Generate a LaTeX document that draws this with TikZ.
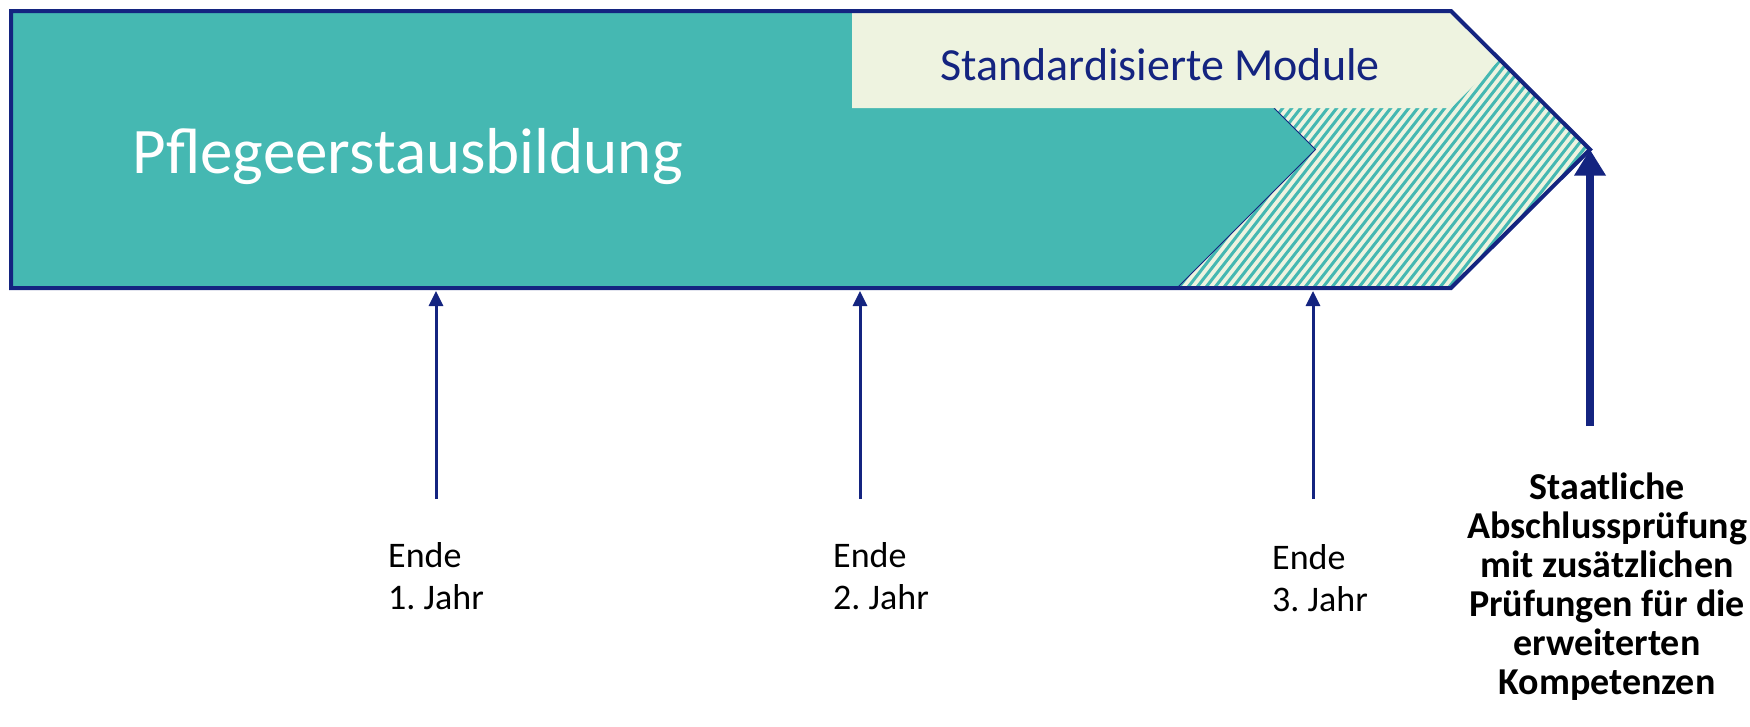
\documentclass[tikz,border=0pt]{standalone}
\usepackage{fontspec}
\setmainfont{Carlito}
\usetikzlibrary{arrows.meta}
\definecolor{tealf}{RGB}{69,184,178}
\definecolor{lightg}{RGB}{238,243,224}
\definecolor{navy}{RGB}{20,36,128}
\frenchspacing
\tikzset{
  smallarrow/.style={navy, line width=3pt, -{Triangle[width=14pt,length=15pt]}},
  bigarrow/.style={navy, line width=8pt, -{Triangle[width=30pt,length=26pt]}},
  yearlbl/.style={anchor=base west, inner sep=0pt, align=left, font=\fontsize{36}{42}\selectfont},
  stripe/.style={tealf, line width=3pt}
}
\begin{document}
\begin{tikzpicture}[x=1pt,y=-1pt]
\useasboundingbox (0,0) rectangle (1750,726);
% outer chevron corners
\coordinate (oTL) at (11,11);
\coordinate (oTR) at (1451,11);
\coordinate (oTip) at (1590,149.5);
\coordinate (oBR) at (1451,288);
\coordinate (oBL) at (11,288);
% hatched background
\fill[lightg] (oTL) -- (oTR) -- (oTip) -- (oBR) -- (oBL) -- cycle;
\begin{scope}
  \clip (oTL) -- (oTR) -- (oTip) -- (oBR) -- (oBL) -- cycle;
  \foreach \i in {0,...,76} {
    \draw[stripe] ({935+9*\i},300) -- ({935+9*\i+234},0);
  }
\end{scope}
% teal chevron
\coordinate (tTop) at (1274,108);
\coordinate (tTip) at (1315.5,149.5);
\coordinate (tBot) at (1177,288);
\fill[tealf] (oTL) -- (1177,11) -- (tTip) -- (tBot) -- (oBL) -- cycle;
\draw[navy, line width=1pt] (tTop) -- (tTip) -- (tBot);
% light chevron
\fill[lightg] (852,11) -- (oTR) -- (1499.5,59.5) -- (1451,108) -- (852,108) -- cycle;
% outer border
\draw[navy, line width=4pt, line join=miter] (oTL) -- (oTR) -- (oTip) -- (oBR) -- (oBL) -- cycle;
% texts
\node[white, inner sep=0pt, anchor=base west, font=\fontsize{65}{70}\selectfont] (pfl) at (132,173) {Pflegeerstausbildung};
\node[navy, inner sep=0pt, anchor=base, font=\fontsize{46}{50}\selectfont] (std) at (1160,80) {Standardisierte Module};
\node[yearlbl] (e1) at (388,609) {Ende\\1. Jahr};
\node[yearlbl] (e2) at (833,609) {Ende\\2. Jahr};
\node[yearlbl] (e3) at (1272,611) {Ende\\3. Jahr};
\node[inner sep=0pt, anchor=base, align=center, font=\bfseries\fontsize{38}{39}\selectfont] (exam) at (1607,694) {Staatliche\\Abschlussprüfung\\mit zusätzlichen\\Prüfungen für die\\erweiterten\\Kompetenzen};
% arrows
\coordinate (s1) at (436,499); \coordinate (b1) at (436,291);
\coordinate (s2) at (860,499); \coordinate (b2) at (860,291);
\coordinate (s3) at (1313,499); \coordinate (b3) at (1313,291);
\coordinate (s4) at (1590,426);
\draw[smallarrow] (s1) -- (b1);
\draw[smallarrow] (s2) -- (b2);
\draw[smallarrow] (s3) -- (b3);
\draw[bigarrow] (s4) -- (oTip);
\end{tikzpicture}
\end{document}
